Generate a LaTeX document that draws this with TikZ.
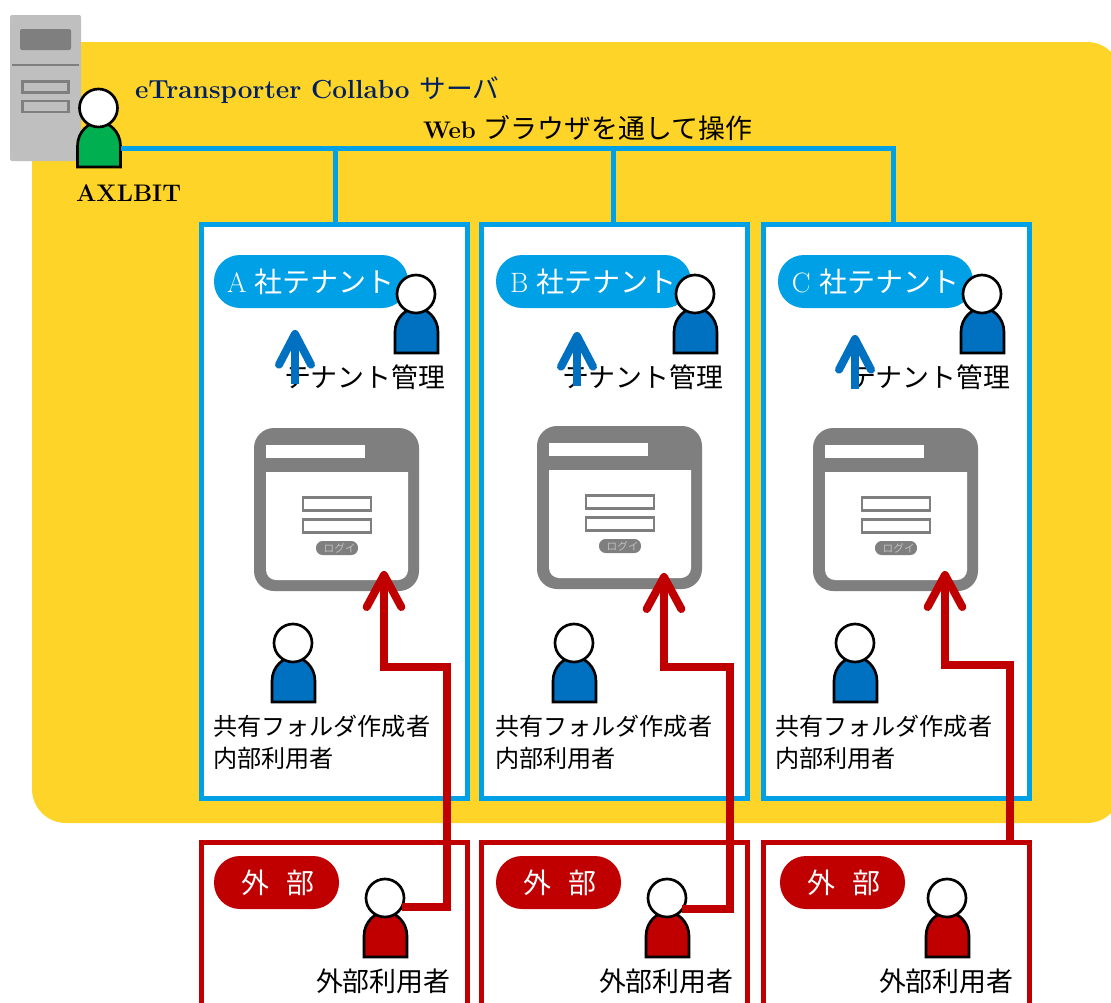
\documentclass[tikz,border=0pt]{standalone}
\usepackage{fontspec}
\newfontfamily\cjk{Noto Sans CJK JP}
\usetikzlibrary{positioning, arrows.meta, calc}

\begin{document}
\begin{tikzpicture}[
        x=0.75pt, y=-0.75pt,
        lbl/.style={inner sep=0pt, outer sep=0pt, anchor=west, font=\cjk\fontsize{20.2}{24}\selectfont},
        latin/.style={inner sep=0pt, outer sep=0pt, anchor=west, font=\bfseries\fontsize{18}{24}\selectfont},
        tenant/.style={draw=tblue, line width=3.75pt, fill=white, minimum width=199.5pt, minimum height=430.5pt, inner sep=0pt, outer sep=0pt},
        extern/.style={draw=ered, line width=3.75pt, fill=white, minimum width=199.5pt, minimum height=193.5pt, inner sep=0pt, outer sep=0pt},
        pill/.style={rounded corners=19.5pt, minimum height=39.75pt, text=white, inner sep=0pt, outer sep=0pt, font=\fontsize{21}{24}\selectfont},
        bus/.style={draw=tblue, line width=3.75pt},
        redline/.style={draw=ered, line width=6pt, line join=miter, -{Straight Barb[length=24pt, width=26pt, round]}},
        uparrow/.style={-{Straight Barb[length=23pt, width=24pt, round]}, line cap=butt},
        field/.style={draw=wgray, line width=1.8pt, fill=white, minimum width=51pt, minimum height=9.5pt, inner sep=0pt},
        bay/.style={draw=wgray, line width=1.8pt, minimum width=34.5pt, minimum height=8.5pt, inner sep=0pt},
        pics/person/.style={code={
            \draw[pic actions, draw=black, line width=2pt, line join=miter] (-21,59) -- (-21,38) .. controls (-21,24) and (-10,14) .. (0.5,14) .. controls (11,14) and (22,24) .. (22,38) -- (22,59) -- cycle;
            \node[circle, draw=black, fill=white, line width=2pt, minimum size=28.5pt, inner sep=0pt, outer sep=0pt] (-head) at (0,0) {};
            \coordinate (-side) at (22,40);
        }},
    ]
    \definecolor{tblue}{HTML}{00A0E6}
    \definecolor{ered}{HTML}{C00000}
    \definecolor{pblue}{HTML}{0070C0}
    \definecolor{pgreen}{HTML}{00B050}
    \definecolor{wgray}{HTML}{7F7F7F}
    \definecolor{sgray}{HTML}{BFBFBF}
    \definecolor{ground}{HTML}{FFD428}
    \definecolor{navy}{HTML}{002060}

    \useasboundingbox (0,0) rectangle (1111,1003);
    \clip (0,0) rectangle (1111,1003);

    % Draw the yellow server area
    \fill[ground, rounded corners=25.5pt] (32,42) rectangle (1121,823);

    % Draw the server
    \node[fill=sgray, rounded corners=1.5pt, minimum width=53.25pt, minimum height=109.5pt, inner sep=0pt] (server) at (45.5,88) {};
    \node[fill=wgray, rounded corners=1.5pt, minimum width=38.25pt, minimum height=15.75pt, inner sep=0pt] (slot) at (45.5,39.5) {};
    \draw[wgray, line width=1pt] ([xshift=2pt]server.west |- 0,65) coordinate (bar) -- ([xshift=-2pt]server.east |- 0,65);
    \node[bay] (bay1) at (45.5,87) {};
    \node[bay] (bay2) at (45.5,106.5) {};

    % Draw the titles
    \node[latin, text=navy, font=\bfseries\fontsize{19.6}{24}\selectfont] (title) at (135,90) {eTransporter Collabo \mdseries\cjk\fontsize{20}{24}\selectfont サーバ};
    \node[latin] (web) at (423,128) {Web\hspace{6pt}\mdseries\cjk\fontsize{20.2}{24}\selectfont ブラウザを通して操作};
    \node[latin] (axl) at (76,193) {AXLBIT};

    % Draw the tenant boxes with their contents
    \foreach \name / \bx / \wx / \wy / \ax / \ay / \mx / \lx / \ix / \ux / \pl / \pw in {
            A/334/254/428/295/330/416/284/293/213/214/194,
            B/614.5/537/426/577/332/695/562/574/495/496/195,
            C/896.5/813/428/855/335/982/849/855/775/778/195} {
        \node[tenant] (T-\name) at (\bx,511) {};
        \node[pill, fill=tblue, minimum width=\pw*0.75pt, anchor=north west] (L-\name) at (\pl,255) {\name\ \cjk 社テナント};
        \pic[fill=pblue] (M-\name) at (\mx,294) {person};
        \node[lbl] (ML-\name) at (\lx,377) {テナント管理};
        \coordinate (AT-\name) at (\ax,\ay);
        \coordinate (AB-\name) at (\ax,\ay+54);
        \draw[uparrow, pblue, line width=6pt] (AB-\name) -- (AT-\name);
        % Draw the login window
        \begin{scope}[shift={(\wx,\wy)}]
            \fill[wgray, rounded corners=15pt] (0,0) rectangle (165,163);
            \fill[white] (12,44) -- (154,44) [rounded corners=7.5pt] -- (154,152) -- (12,152) [sharp corners] -- cycle;
            \node[fill=white, minimum width=74.25pt, minimum height=9.75pt, inner sep=0pt, anchor=north west] (WT-\name) at (12,17) {};
            \node[field] (F1-\name) at (83,76) {};
            \node[field] (F2-\name) at (83,98) {};
            \node[fill=wgray, rounded corners=5pt, minimum width=31.5pt, minimum height=10.5pt, inner sep=0pt, text=white!75!black, font=\cjk\fontsize{8}{9}\selectfont] (B-\name) at (83,120) {\hspace{4pt}ログイ};
        \end{scope}
        \pic[fill=pblue] (U-\name) at (\ix,643) {person};
        \node[lbl, font=\cjk\fontsize{18.1}{22}\selectfont, align=left, anchor=north west] (UL-\name) at (\ux,715) {共有フォルダ作成者\\[2pt]内部利用者};
    }

    % Draw the outside boxes
    \foreach \name / \bx / \pl / \px / \lx in {
            A/334/214/385/316,
            B/614.5/496/667/599,
            C/896.5/780/947/879} {
        \node[extern] (X-\name) at (\bx,971) {};
        \node[pill, fill=ered, minimum width=93.75pt, anchor=north west] (R-\name) at (\pl,856) {\cjk\hspace{2pt}外\ \ \,部};
        \pic[fill=ered] (E-\name) at (\px,898) {person};
        \node[lbl] (EL-\name) at (\lx,981) {外部利用者};
    }

    % Connect AXLBIT with the tenant boxes
    \pic[fill=pgreen] (AX) at (98.5,108) {person};
    \foreach \name / \x in {A/335, B/613, C/893}
        \coordinate (J-\name) at (\x,148);
    \draw[bus] (J-A) -- (J-A |- T-A.north);
    \draw[bus] (J-B) -- (J-B |- T-B.north);
    \draw[bus] (AX-side) -- (J-C) -- (J-C |- T-C.north);

    % Connect the outside users with the login windows
    \coordinate (tipA) at (384,571);
    \coordinate (tipB) at (664,573);
    \coordinate (tipC) at (945,571);
    \draw[redline] (E-A-head.-28) -| (447,667) -- (384,667) -- (tipA);
    \draw[redline] (E-B-head.-36) -| (730,667) -- (664,667) -- (tipB);
    \draw[redline] (X-C.north -| 1010,0) -- (1010,665) -- (945,665) -- (tipC);
\end{tikzpicture}
\end{document}
